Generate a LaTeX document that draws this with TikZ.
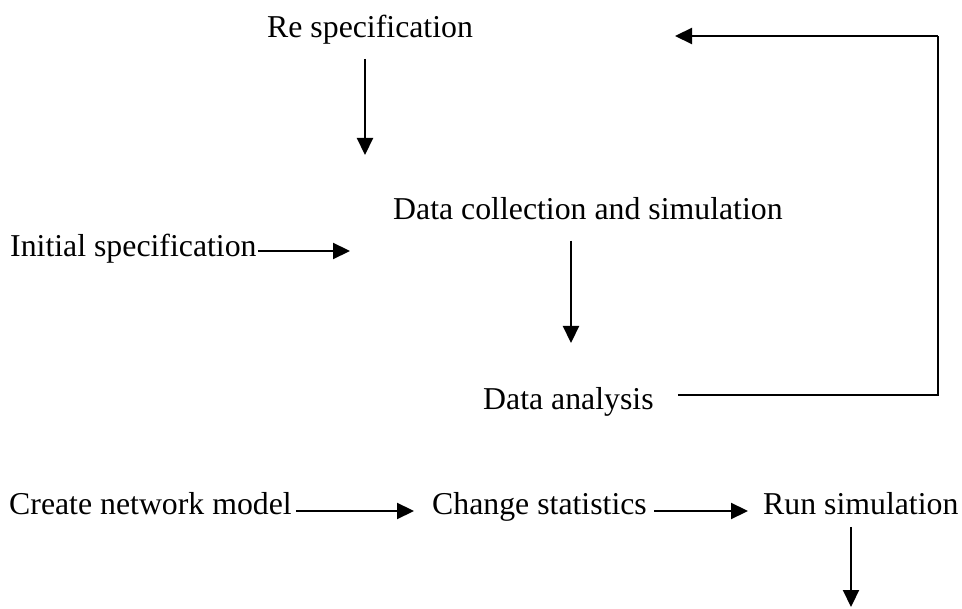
\documentclass[tikz,border=0pt]{standalone}
\usepackage{fontspec}
\setmainfont{Liberation Serif}
\usepackage{tikz}
\usetikzlibrary{positioning,arrows.meta}

\tikzset{
	stage/.style={anchor=base west, inner sep=3pt, font=\fontsize{31.8}{38}\selectfont},
	arr/.style={line width=2.2pt, -{Triangle[length=17pt,width=16pt]}}
}

\begin{document}
\begin{tikzpicture}[x=1pt, y=-1pt]
		\useasboundingbox (0,0) rectangle (962,609);
		
		% Specification loop
		\node[stage] (respec) at (264,38) {Re specification};
		\node[stage] (collect) at (390,220) {Data collection and simulation};
		\node[stage] (initspec) at (7,257) {Initial specification};
		\node[stage] (analysis) at (480,410) {Data analysis};
		
		\coordinate (respecTip) at (365,155);
		\coordinate (initTip) at (350,251);
		\coordinate (collectTip) at (571,343);
		\coordinate (loopCorner) at (938,36);
		\coordinate (loopTip) at (675,36);
		
		\draw[arr, shorten <=11pt] (respec.south -| respecTip) -- (respecTip);
		\draw[arr, shorten <=-2pt] ([yshift=6pt]initspec.base east) -- (initTip);
		\draw[arr, shorten <=17pt] (collect.south -| collectTip) -- (collectTip);
		\draw[line width=2.2pt] ([xshift=21pt,yshift=15pt]analysis.base east) -| (loopCorner);
		\draw[arr] (loopCorner) -- (loopTip);
		
		% Simulation steps
		\node[stage] (create) at (6,515) {Create network model};
		\node[stage] (change) at (429,515) {Change statistics};
		\node[stage] (run) at (760,515) {Run simulation};
		
		\coordinate (runTip) at (851,607);
		
		\draw[arr, shorten <=1pt, shorten >=15pt] ([yshift=4pt]create.base east) -- ([yshift=4pt]change.base west);
		\draw[arr, shorten <=4pt, shorten >=12pt] ([yshift=4pt]change.base east) -- ([yshift=4pt]run.base west);
		\draw[arr, shorten <=12pt] (run.base -| runTip) -- (runTip);
	\end{tikzpicture}
\end{document}
